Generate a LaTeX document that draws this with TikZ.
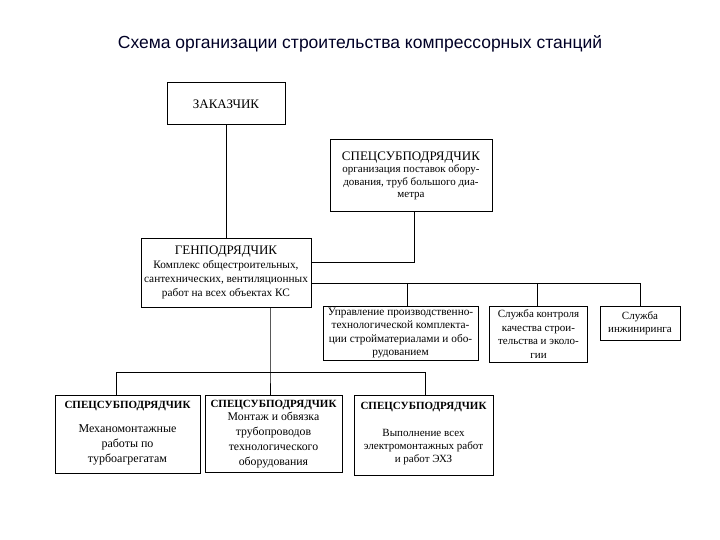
\documentclass[tikz,border=0pt]{standalone}
\usepackage{fontspec}
\setmainfont{Liberation Serif}
\newfontfamily\titlefont{Liberation Sans}
\begin{document}
\begin{tikzpicture}[x=1pt,y=-1pt,
  box/.style={draw, line width=1pt, align=center, inner sep=1pt},
  conn/.style={line width=0.9pt}]
\useasboundingbox (0,0) rectangle (720,540);
\node[font=\titlefont\fontsize{17.5}{20}\selectfont, text=black!85!blue] (title) at (360,44) {Схема организации строительства компрессорных станций};

\node[box, minimum width=118pt, minimum height=42pt, font=\fontsize{13}{15}\selectfont] (zak) at (226,104) {ЗАКАЗЧИК};
\node[box, minimum width=162pt, minimum height=72pt, font=\fontsize{11}{12.3}\selectfont] (sub1) at (411,176)
  {{\fontsize{13}{15}\selectfont СПЕЦСУБПОДРЯДЧИК}\\организация поставок обору-\\дования, труб большого диа-\\метра};
\node[box, minimum width=170pt, minimum height=69pt, font=\fontsize{11.3}{14}\selectfont] (gen) at (226,272.5)
  {{\fontsize{13}{15}\selectfont ГЕНПОДРЯДЧИК}\\Комплекс общестроительных,\\сантехнических, вентиляционных\\работ на всех объектах КС};
\node[box, minimum width=155pt, minimum height=54pt, font=\fontsize{11.3}{13.5}\selectfont] (upr) at (400.5,333)
  {Управление производственно-\\технологической комплекта-\\ции стройматериалами и обо-\\рудованием};
\node[box, minimum width=98pt, minimum height=56pt, font=\fontsize{11}{13.5}\selectfont] (kon) at (538.5,334)
  {Служба контроля\\качества строи-\\тельства и эколо-\\гии};
\node[box, minimum width=80pt, minimum height=34pt, font=\fontsize{11}{13.5}\selectfont] (inz) at (640,323)
  {Служба\\инжиниринга};

\node[box, minimum width=145pt, minimum height=78pt] (b1) at (127.5,434) {};
\node[font=\bfseries\fontsize{11}{12}\selectfont] (b1h) at (127.5,406) {СПЕЦСУБПОДРЯДЧИК};
\node[align=center, font=\fontsize{12}{15}\selectfont] (b1t) at (127.5,444.5) {Механомонтажные\\работы по\\турбоагрегатам};

\node[box, minimum width=137pt, minimum height=77pt] (b2) at (273.5,433.5) {};
\node[font=\bfseries\fontsize{11}{12}\selectfont] (b2h) at (273.5,405) {СПЕЦСУБПОДРЯДЧИК};
\node[align=center, font=\fontsize{11.8}{14.8}\selectfont] (b2t) at (273.5,440) {Монтаж и обвязка\\трубопроводов\\технологического\\оборудования};

\node[box, minimum width=139pt, minimum height=80pt] (b3) at (423.5,435) {};
\node[font=\bfseries\fontsize{11}{12}\selectfont] (b3h) at (423.5,407) {СПЕЦСУБПОДРЯДЧИК};
\node[align=center, font=\fontsize{11}{13}\selectfont] (b3t) at (423.5,447) {Выполнение всех\\электромонтажных работ\\и работ ЭХЗ};

% connectors
\draw[conn] (zak.south) -- (gen.north);
\coordinate (j1) at (414,262);
\draw[conn] (sub1.south -| j1) -- (j1) -- (j1 -| gen.east);
\coordinate (busA) at (640,283);
\coordinate (t1) at (407,283);
\coordinate (t2) at (537,283);
\draw[conn] (busA -| gen.east) -- (busA) -- (inz.north);
\draw[conn] (t1) -- (upr.north -| t1);
\draw[conn] (t2) -- (kon.north -| t2);
\coordinate (c0) at (270,372);
\coordinate (cL) at (116,372);
\coordinate (cR) at (425,372);
\draw[conn] (gen.south -| c0) -- (c0) -- (b2.north -| c0);
\draw[conn] (b1.north -| cL) -- (cL) -- (cR) -- (b3.north -| cR);
\end{tikzpicture}
\end{document}
